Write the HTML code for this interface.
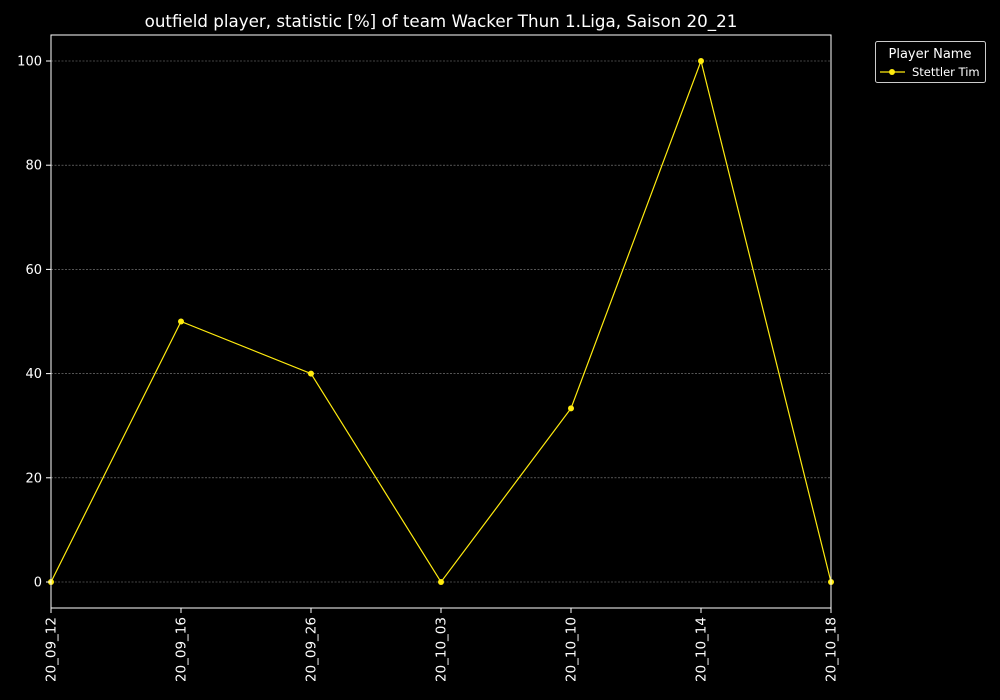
<!DOCTYPE html>
<html><head><meta charset="utf-8"><style>
html,body{margin:0;padding:0;background:#000;}
svg{display:block;font-family:"DejaVu Sans","Liberation Sans",sans-serif;}
</style></head><body>
<svg id="chart" width="1000" height="700" viewBox="0 0 1000 700">
<rect x="0" y="0" width="1000" height="700" fill="#000"/>
<text x="441" y="27" fill="#fff" font-size="16.7" text-anchor="middle">outfield player, statistic [%] of team Wacker Thun 1.Liga, Saison 20_21</text>
<g id="grid"></g>
<g id="series"></g>
<rect x="51" y="35" width="780" height="573" fill="none" stroke="#fff" stroke-width="1"/>
<g id="axes"></g>
<g>
<rect x="875.5" y="41.5" width="110" height="41" rx="2" fill="#000" stroke="#ccc"/>
<text x="930" y="58" fill="#fff" font-size="13" text-anchor="middle">Player Name</text>
<line x1="880" y1="72" x2="905" y2="72" stroke="#ffeb0f" stroke-width="1.2"/>
<circle cx="892" cy="72" r="3" fill="#ffeb0f"/>
<text x="912" y="76" fill="#fff" font-size="11.5">Stettler Tim</text>
</g>
</svg>
<script>
const categories = ["20_09_12","20_09_16","20_09_26","20_10_03","20_10_10","20_10_14","20_10_18"];
const values = [0,50,40,0,33.33,100,0];
const yTicks = [0,20,40,60,80,100];
const NS="http://www.w3.org/2000/svg";
const x0=51,x1=831,y0v=0,y0p=582,y100p=61;
function xs(i){return x0+i*(x1-x0)/(categories.length-1);}
function ys(v){return y0p+(v-y0v)*(y100p-y0p)/100;}
function mk(t,a,p){const e=document.createElementNS(NS,t);for(const k in a)e.setAttribute(k,a[k]);p.appendChild(e);return e;}
const grid=document.getElementById('grid'),axes=document.getElementById('axes'),ser=document.getElementById('series');
yTicks.forEach(v=>{
  const y=ys(v);
  const g=mk('line',{x1:51,x2:831,y1:y,y2:y,stroke:'#888','stroke-width':0.6,'stroke-dasharray':'2,1.5'},grid);
  
  
  const t=mk('line',{x1:46,x2:51,y1:y,y2:y,stroke:'#fff'},axes);
  
  
  const l=mk('text',{x:42,y:y+4.5,fill:'#fff','font-size':13,'text-anchor':'end'},axes);
  l.textContent=v;
  
  
});
categories.forEach((c,i)=>{
  const x=xs(i);
  const t=mk('line',{x1:x,x2:x,y1:608,y2:613,stroke:'#fff'},axes);
  
  
  const l=mk('text',{x:0,y:0,fill:'#fff','font-size':13.5,'text-anchor':'end',transform:`translate(${x+4.5},617) rotate(-90)`},axes);
  l.textContent=c;
  
  
});
const pl=mk('polyline',{points:values.map((v,i)=>xs(i)+','+ys(v)).join(' '),fill:'none',stroke:'#ffeb0f','stroke-width':1.2},ser);


values.forEach((v,i)=>{
  const c=mk('circle',{cx:xs(i),cy:ys(v),r:3,fill:'#ffeb0f'},ser);
  
  
});
</script>
</body></html>
